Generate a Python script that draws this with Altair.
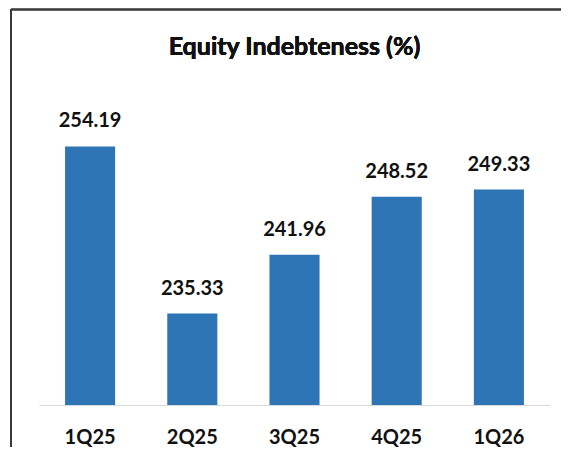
import altair as alt
import pandas as pd

quarters = ["1Q25", "2Q25", "3Q25", "4Q25", "1Q26"]
values = [254.19, 235.33, 241.96, 248.52, 249.33]
labels = ["254.19", "235.33", "241.96", "248.52", "249.33"]

Y_MIN, Y_MAX = 225, 260
TITLE = "Equity Indebteness (%)"
FONT = "Lato"
BAR_COLOR = "#2E75B6"
TEXT_COLOR = "#111111"

df = pd.DataFrame({"quarter": quarters, "value": values, "label": labels})

x_enc = alt.X(
    "quarter:N",
    sort=quarters,
    title=None,
    scale=alt.Scale(paddingInner=0.51, paddingOuter=0.255),
    axis=alt.Axis(
        labelAngle=0,
        labelFont=FONT,
        labelFontSize=20,
        labelFontWeight="bold",
        labelColor=TEXT_COLOR,
        labelPadding=22,
        ticks=False,
        domainColor="#D9D9D9",
        domainWidth=1,
        grid=False,
    ),
)
y_enc = alt.Y(
    "value:Q",
    scale=alt.Scale(domain=[Y_MIN, Y_MAX], zero=False, nice=False),
    axis=None,
)

bars = alt.Chart(df).mark_bar(color=BAR_COLOR).encode(
    x=x_enc, y=y_enc, y2=alt.datum(Y_MIN)
)

text = alt.Chart(df).mark_text(
    font=FONT, fontSize=20, fontWeight="bold", color=TEXT_COLOR,
    baseline="alphabetic", dy=-19,
).encode(x=alt.X("quarter:N", sort=quarters), y="value:Q", text="label:N")

title = alt.Chart(df).mark_text(
    font=FONT, fontWeight="bold", color=TEXT_COLOR,
    baseline="alphabetic", align="center",
).encode(
    x=alt.value(255.5), y=alt.value(-40), text=alt.value(TITLE),
    size=alt.value(25),
)

# frame lines (top and left edges of the cropped chart border)
top_border = alt.Chart(df).mark_rule(color="#3a3a3a", strokeWidth=1.5).encode(
    x=alt.value(-28), x2=alt.value(540), y=alt.value(-85.5), y2=alt.value(-85.5)
)
left_border = alt.Chart(df).mark_rule(color="#3a3a3a", strokeWidth=1.5).encode(
    x=alt.value(-28), x2=alt.value(-28), y=alt.value(-86), y2=alt.value(500)
)

chart = (
    alt.layer(bars, text, title, top_border, left_border)
    .properties(
        width=511,
        height=310,
        background="white",
        autosize=alt.AutoSizeParams(type="none"),
        padding={"left": 31, "top": 87, "right": 11, "bottom": 42},
    )
    .configure_view(stroke="transparent", strokeWidth=0)
)

chart.save("out.html", embed_options={"renderer": "svg", "actions": False})
